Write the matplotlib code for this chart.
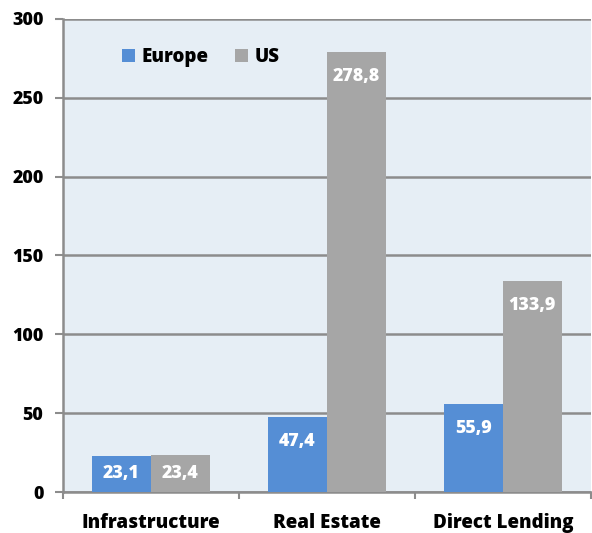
import numpy as np
import matplotlib.pyplot as plt

categories = ["Infrastructure", "Real Estate", "Direct Lending"]
europe = [23.1, 47.4, 55.9]
us = [23.4, 278.8, 133.9]
yticks = [0, 50, 100, 150, 200, 250, 300]

plt.rcParams['font.family'] = ['Open Sans', 'DejaVu Sans']
FW = 'heavy'
FS = 13.5

fig = plt.figure(figsize=(5.92, 5.33), dpi=100)
ax = fig.add_axes([0.1064, 0.0769, 0.8916, 0.8875])
ax.set_facecolor('#e6eef5')

x = np.arange(len(categories))
w = 0.335
grid_c = '#8c8c8c'
bars_eu = ax.bar(x - w / 2, europe, w, color='#558ed5', label='Europe', zorder=3)
bars_us = ax.bar(x + w / 2, us, w, color='#a6a6a6', label='US', zorder=3)

# labels inside the top of the bar; short bars get them centred
for bars in (bars_eu, bars_us):
    for b in bars:
        h = b.get_height()
        ax.text(b.get_x() + b.get_width() / 2, max(h - 15.5, h / 2),
                ('%.1f' % h).replace('.', ','),
                ha='center', va='center', color='white', fontsize=12.8,
                fontweight=FW, zorder=4)

ax.set_ylim(0, 300)
ax.set_xlim(-0.5, 2.5)
ax.set_yticks(yticks)
ax.set_yticklabels([str(t) for t in yticks], fontsize=12.8, fontweight=FW)
ax.yaxis.grid(True, color=grid_c, linewidth=1.8, zorder=1)
ax.set_axisbelow(True)

# ticks at category boundaries, labels at centers
ax.set_xticks([-0.5, 0.5, 1.5, 2.5])
ax.set_xticklabels([])
ax.set_xticks(x, minor=True)
ax.set_xticklabels(categories, minor=True, fontsize=FS, fontweight=FW)
ax.tick_params(axis='x', which='minor', length=0, pad=15)
ax.tick_params(axis='x', which='major', length=5, width=1.5, color=grid_c)
ax.tick_params(axis='y', length=6, width=1.5, color=grid_c, pad=8)

for s in ['top', 'right']:
    ax.spines[s].set_visible(False)
for s in ['left', 'bottom']:
    ax.spines[s].set_color(grid_c)
    ax.spines[s].set_linewidth(1.8)

ax.legend(loc='upper left', bbox_to_anchor=(0.08, 0.977), ncol=2, frameon=False,
          prop={'weight': FW, 'size': FS}, handlelength=0.7, handleheight=0.7,
          handletextpad=0.35, columnspacing=1.4)

fig.savefig('out.png', dpi=100)
